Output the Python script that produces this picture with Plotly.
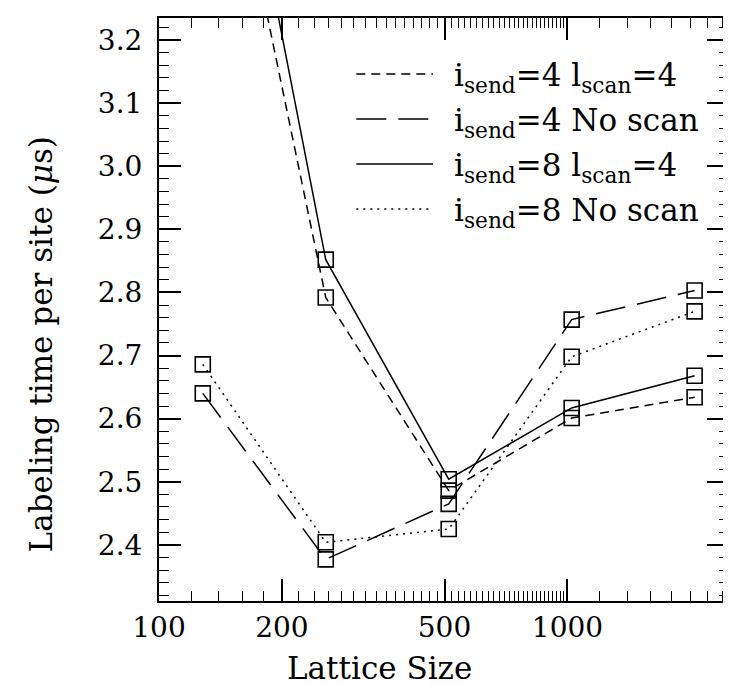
import plotly.graph_objects as go

# ---------------- data ----------------
lattice = [128, 256, 512, 1024, 2048]
send4_scan4 = [3.73, 2.792, 2.486, 2.601, 2.634]
send4_noscan = [2.640, 2.377, 2.465, 2.757, 2.803]
send8_scan4 = [3.85, 2.852, 2.504, 2.617, 2.668]
send8_noscan = [2.686, 2.404, 2.425, 2.698, 2.770]

series_names = [
    "i<sub>send</sub>=4 l<sub>scan</sub>=4",
    "i<sub>send</sub>=4 No scan",
    "i<sub>send</sub>=8 l<sub>scan</sub>=4",
    "i<sub>send</sub>=8 No scan",
]
x_tick_vals = [100, 200, 500, 1000]
x_tick_text = ["100", "200", "500", "1000"]
y_tick_vals = [2.4, 2.5, 2.6, 2.7, 2.8, 2.9, 3.0, 3.1, 3.2]
y_tick_text = ["2.4", "2.5", "2.6", "2.7", "2.8", "2.9", "3.0", "3.1", "3.2"]
x_title = "Lattice Size"
y_title = "Labeling time per site (<i>μ</i>s)"

# ---------------- style ----------------
FONT = "DejaVu Serif"
dashes = ["9px,6px", "30px,12px", "solid", "2px,5px"]
series = [send4_scan4, send4_noscan, send8_scan4, send8_noscan]

W, H = 731, 685
L, R, T, B = 151, 8, 10, 92
pw, ph = W - L - R, H - T - B

def px_x(p):
    return (p - L) / pw

def px_y(p):
    return (H - B - p) / ph

fig = go.Figure()
for vals, d, name in zip(series, dashes, series_names):
    fig.add_trace(go.Scatter(
        x=lattice, y=vals, mode="lines+markers", name=name,
        line=dict(color="black", width=1.5, dash=d),
        marker=dict(symbol="square-open", size=15, color="black",
                    line=dict(width=1.6, color="black")),
        showlegend=False,
    ))

# minor ticks
x_minor = [v for v in range(120, 1000, 20) if v not in (200, 500)] + list(range(1200, 2500, 200))
y_minor = [round(2.32 + 0.02 * i, 2) for i in range(46)]
y_minor = [v for v in y_minor if abs(v * 10 - round(v * 10)) > 1e-6]

fig.update_xaxes(
    type="log", range=[2, 3.3955],
    tickmode="array", tickvals=x_tick_vals, ticktext=x_tick_text,
    ticks="inside", ticklen=22, tickwidth=1.5, tickcolor="black",
    showline=True, linewidth=2, linecolor="black", mirror="ticks",
    showgrid=False, zeroline=False,
    tickfont=dict(family=FONT, size=28, color="black"),
    minor=dict(tickmode="array", tickvals=x_minor, ticks="inside",
               ticklen=10, tickwidth=1.2, tickcolor="black", showgrid=False),
)
fig.update_yaxes(
    range=[2.311, 3.235],
    tickmode="array", tickvals=y_tick_vals, ticktext=y_tick_text,
    ticks="inside", ticklen=22, tickwidth=1.5, tickcolor="black",
    showline=True, linewidth=2, linecolor="black", mirror="ticks",
    showgrid=False, zeroline=False,
    tickfont=dict(family=FONT, size=28, color="black"),
    ticklabelstandoff=9,
    minor=dict(tickmode="array", tickvals=y_minor, ticks="inside",
               ticklen=10, tickwidth=1.2, tickcolor="black", showgrid=False),
)

annotations = [
    dict(text=x_title, xref="paper", yref="paper", x=px_x(372), y=px_y(660),
         xanchor="center", yanchor="middle", showarrow=False,
         font=dict(family=FONT, size=31, color="black")),
    dict(text=y_title, xref="paper", yref="paper", x=px_x(33), y=px_y(336),
         xanchor="center", yanchor="middle", showarrow=False, textangle=-90,
         font=dict(family=FONT, size=31, color="black")),
]
shapes = []
row_y = [66, 111, 156, 201]
for name, d, ry in zip(series_names, dashes, row_y):
    shapes.append(dict(type="line", xref="paper", yref="paper",
                       x0=px_x(349), x1=px_x(426), y0=px_y(ry), y1=px_y(ry),
                       line=dict(color="black", width=1.5, dash=d)))
    annotations.append(dict(text=name, xref="paper", yref="paper",
                            x=px_x(445), y=px_y(ry + 3), xanchor="left", yanchor="middle",
                            showarrow=False,
                            font=dict(family=FONT, size=31, color="black")))

fig.update_layout(
    width=W, height=H,
    margin=dict(l=L, r=R, t=T, b=B),
    paper_bgcolor="white", plot_bgcolor="white",
    annotations=annotations, shapes=shapes,
    showlegend=False,
)
fig.write_html("out.html")
